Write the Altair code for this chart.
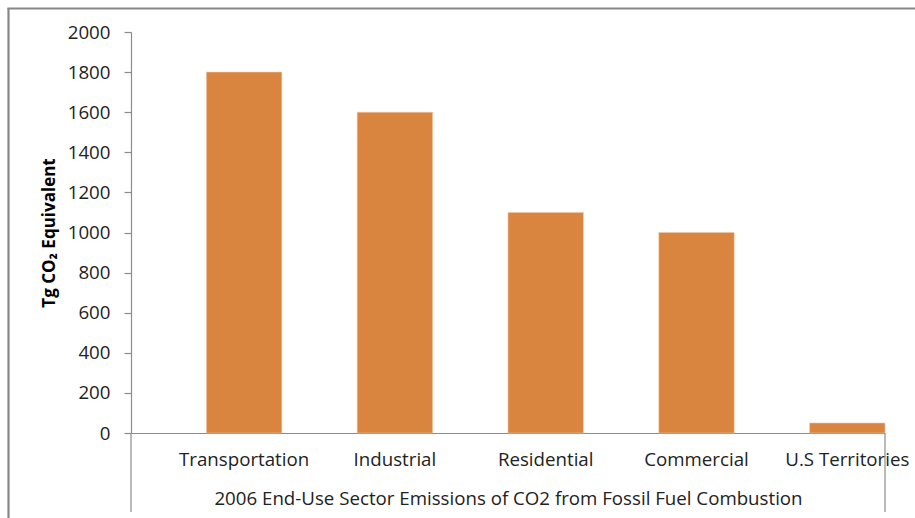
import altair as alt
import pandas as pd

categories = ["Transportation", "Industrial", "Residential", "Commercial", "U.S Territories"]
values = [1800, 1600, 1100, 1000, 50]
y_ticks = [0, 200, 400, 600, 800, 1000, 1200, 1400, 1600, 1800, 2000]

df = pd.DataFrame({"sector": categories, "value": values})

W, H = 754, 401
FONT = "Open Sans"
AXIS_GRAY = "#8c8c8c"

bars = alt.Chart(df).mark_bar(color="#D9843F", stroke="#F0C8A8", strokeWidth=0.6).encode(
    x=alt.X(
        "sector:N",
        sort=categories,
        scale=alt.Scale(paddingInner=0.5, paddingOuter=0.25, align=1),
        axis=alt.Axis(
            title="2006 End-Use Sector Emissions of CO2 from Fossil Fuel Combustion",
            labelAngle=0,
            ticks=False,
            labelPadding=17,
            labelFont=FONT,
            labelFontSize=18.7,
            labelColor="#222222",
            titleFont=FONT,
            titleFontSize=18.7,
            titleFontWeight="normal",
            titleColor="#222222",
            titlePadding=21,
            domainColor=AXIS_GRAY,
            domainWidth=1.2,
        ),
    ),
    y=alt.Y(
        "value:Q",
        scale=alt.Scale(domain=[0, 2000], nice=False),
        axis=alt.Axis(
            title="Tg CO₂ Equivalent",
            values=y_ticks,
            format="d",
            grid=False,
            tickSize=7,
            tickColor=AXIS_GRAY,
            tickWidth=1.2,
            labelPadding=14,
            labelFont=FONT,
            labelFontSize=18.7,
            labelColor="#222222",
            titleFont=FONT,
            titleFontSize=17,
            titleFontWeight="bold",
            titleColor="#000000",
            titlePadding=9,
            domainColor=AXIS_GRAY,
            domainWidth=1.2,
        ),
    ),
)

# multi-level category dividers below the x axis
div_df = pd.DataFrame({"px": [0, W]})
dividers = alt.Chart(div_df).mark_rule(color=AXIS_GRAY, strokeWidth=1.2).encode(
    x=alt.X("px:Q", scale=None),
    y=alt.value(H),
    y2=alt.value(H + 79),
)

# outer frame (left and top)
frame_left = alt.Chart(pd.DataFrame({"a": [0]})).mark_rule(color="#878787", strokeWidth=2.2).encode(
    x=alt.value(-122.5), y=alt.value(-24), y2=alt.value(H + 90)
)
frame_top = alt.Chart(pd.DataFrame({"a": [0]})).mark_rule(color="#878787", strokeWidth=2.2).encode(
    x=alt.value(-123.5), x2=alt.value(W + 40), y=alt.value(-23.5)
)

chart = alt.layer(bars, dividers, frame_left, frame_top).properties(
    width=W,
    height=H,
    background="white",
    autosize=alt.AutoSizeParams(type="none"),
    padding={"left": 131, "top": 32, "right": 30, "bottom": 85},
).configure_view(stroke=None)

chart.save("out.html", embed_options={"renderer": "svg", "actions": False})
